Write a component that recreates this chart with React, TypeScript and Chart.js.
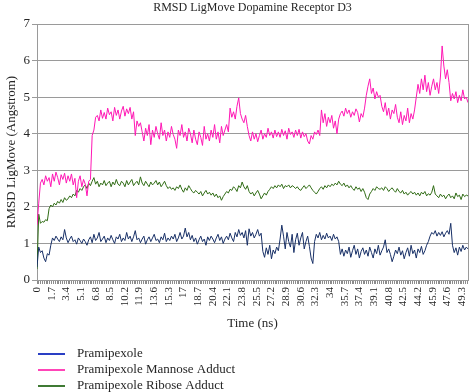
import React, { useEffect, useRef } from "react";
import { Chart, registerables } from "chart.js";

Chart.register(...registerables);

const TITLE = "RMSD LigMove Dopamine Receptor D3";
const X_TITLE = "Time (ns)";
const Y_TITLE = "RMSD LigMove (Angstrom)";

// sampling interval of the trajectories (ns) and axis extent
const TIME_STEP = 0.2;
const X_MAX = 50;
const Y_MAX = 7;

const X_TICK_LABELS = [
  "0", "1.7", "3.4", "5.1", "6.8", "8.5", "10.2", "11.9", "13.6", "15.3",
  "17", "18.7", "20.4", "22.1", "23.8", "25.5", "27.2", "28.9", "30.6", "32.3",
  "34", "35.7", "37.4", "39.1", "40.8", "42.5", "44.2", "45.9", "47.6", "49.3",
];
const MINOR_PER_LABEL = 8;

const SERIES_NAMES = [
  "Pramipexole",
  "Pramipexole Mannose Adduct",
  "Pramipexole Ribose Adduct",
];
const LINE_COLORS = ["#172f66", "#ff17b4", "#2f6b14"];
const LEGEND_COLORS = ["#2a3fc4", "#ff45b8", "#3f7a34"];

// RMSD (Angstrom), one value every TIME_STEP ns from 0 to 50 ns
const PRAMIPEXOLE = [
  0.35, 0.9, 0.75, 0.8, 0.6, 0.5, 0.72, 0.68, 0.95, 1.15,
  1.08, 1.2, 1.12, 1.05, 1.18, 1.1, 1.38, 1.15, 1.02, 1.12,
  1.2, 1.05, 1.1, 0.98, 1.15, 1.08, 1.0, 1.12, 1.05, 0.95,
  1.1, 1.18, 1.02, 1.25, 1.08, 1.15, 1.3, 1.05, 1.12, 1.2,
  1.02, 1.15, 1.08, 1.22, 1.1, 1.0, 1.18, 1.12, 1.25, 1.05,
  1.15, 1.08, 1.3, 1.12, 1.2, 1.05, 1.18, 1.35, 1.1, 1.15,
  1.02, 1.12, 1.2, 0.98, 1.1, 1.18, 1.05, 1.15, 1.25, 1.08,
  1.12, 1.02, 1.18, 1.1, 1.28, 1.05, 1.15, 1.08, 1.2, 1.12,
  1.25, 1.05, 1.15, 1.3, 1.12, 1.2, 1.42, 1.18, 1.3, 1.1,
  1.22, 1.05, 1.15, 0.98, 1.1, 1.2, 1.05, 1.12, 0.95, 1.18,
  1.08, 1.2, 1.12, 1.02, 1.15, 1.25, 1.08, 1.18, 1.0, 1.12,
  1.2, 1.1, 1.28, 1.15, 1.05, 1.3, 1.18, 1.38, 1.22, 1.3,
  1.15, 1.35, 0.95, 1.4, 1.2, 1.3, 1.15, 1.25, 1.38, 1.2,
  1.28, 0.78, 0.62, 0.88, 0.7, 0.95, 0.58, 0.82, 0.72, 0.9,
  0.8, 1.12, 1.5, 1.2, 0.85, 1.3, 1.05, 0.9, 1.25, 0.75,
  1.1, 1.28, 0.95, 1.15, 1.3, 0.85, 1.05, 1.2, 0.92, 0.6,
  0.45, 1.05, 1.25, 1.15, 1.3, 1.1, 1.22, 1.12, 1.28, 1.15,
  1.2, 1.08, 1.25, 1.12, 1.18, 1.05, 0.7, 0.85, 0.65, 0.82,
  0.72, 0.9, 0.62, 0.8, 0.95, 0.7, 0.85, 0.6, 0.78, 0.88,
  0.7, 0.82, 0.65, 0.9, 0.75, 0.6, 0.85, 0.72, 0.95, 0.68,
  0.8, 0.9, 1.1, 0.75, 0.85, 0.7, 0.5, 0.65, 0.82, 0.72,
  0.9, 0.68, 0.8, 0.58, 0.75, 0.88, 0.65, 0.95, 0.72, 0.82,
  0.6, 0.85, 0.75, 0.92, 0.7, 0.8, 0.95, 1.05, 1.2, 1.3,
  1.25, 1.35, 1.2, 1.3, 1.22, 1.32, 1.18, 1.28, 1.35, 1.25,
  1.55, 0.95, 0.75, 0.88, 0.68, 0.9, 0.78, 0.95, 0.82, 0.9,
  0.85,
];

const MANNOSE_ADDUCT = [
  1.5, 2.1, 2.65, 2.75, 2.6, 2.85, 2.7, 2.8, 2.55, 2.9,
  2.7, 2.95, 2.8, 2.6, 2.88, 2.75, 2.92, 2.65, 2.85, 2.7,
  2.9, 2.6, 2.78, 2.25, 2.7, 2.85, 2.55, 2.75, 2.62, 2.3,
  2.7, 2.75, 3.95, 4.1, 4.45, 4.5, 4.35, 4.65, 4.42, 4.58,
  4.4, 4.7, 4.52, 4.6, 4.35, 4.72, 4.5, 4.65, 4.4, 4.62,
  4.75, 4.48, 4.68, 4.55, 4.72, 4.4, 4.6, 3.95, 4.35, 4.2,
  4.3, 4.05, 3.8, 4.15, 3.95, 4.25, 3.7, 4.1, 3.9, 4.2,
  4.0, 3.85, 4.3, 3.95, 4.1, 3.8, 4.05, 3.9, 4.2, 3.98,
  3.85, 3.6, 4.1, 3.95, 4.25, 3.9, 4.05, 3.8, 4.15, 4.0,
  3.75, 4.1, 3.85, 3.7, 4.05, 3.9, 3.68, 4.2, 3.85, 4.0,
  3.8, 4.1, 3.9, 4.25, 3.85, 4.05, 3.75, 4.2, 3.95, 4.1,
  4.25, 4.05, 4.7, 4.45, 4.6, 4.4, 4.75, 4.98, 4.55, 4.4,
  4.3, 4.5, 4.2, 3.95, 3.8, 4.05, 3.85, 4.0, 3.78, 3.95,
  4.1, 3.85, 4.0, 3.9, 4.15, 3.95, 4.05, 3.88, 4.1, 3.92,
  4.05, 3.9, 4.12, 3.95, 4.08, 3.85, 4.15, 3.98, 4.05, 3.9,
  4.1, 3.95, 4.12, 3.88, 4.05, 3.92, 4.0, 3.8, 3.72, 3.95,
  3.85, 4.05, 3.98, 4.1, 3.95, 4.65, 4.3, 4.55, 4.2, 4.45,
  4.3, 4.5, 4.15, 4.35, 4.0, 4.4, 4.55, 4.62, 4.48, 4.7,
  4.55, 4.65, 4.45, 4.6, 4.5, 4.68, 4.58, 4.32, 4.55, 4.45,
  4.7, 5.05, 5.3, 5.5, 5.1, 5.25, 4.95, 5.15, 5.0, 5.05,
  4.75, 4.6, 4.85, 4.5, 4.7, 4.4, 4.65, 4.55, 4.8, 4.45,
  4.3, 4.6, 4.25, 4.5, 4.35, 4.7, 4.3, 4.55, 4.4, 4.65,
  5.0, 5.35, 5.1, 5.5, 5.2, 5.6, 5.15, 5.4, 5.05, 5.3,
  5.5, 5.2, 5.4, 5.1, 5.55, 6.4, 5.85, 5.5, 5.75, 5.4,
  4.9, 5.1, 4.95, 5.15, 4.85, 5.05, 4.9, 5.2, 4.95, 5.0,
  4.85,
];

const RIBOSE_ADDUCT = [
  0.3, 1.8, 1.55, 1.6, 1.58, 1.65, 1.62, 1.95, 2.05, 2.0,
  2.1, 2.05, 2.15, 2.1, 2.2, 2.12, 2.25, 2.18, 2.22, 2.3,
  2.25, 2.35, 2.3, 2.45, 2.4, 2.5, 2.45, 2.55, 2.6, 2.5,
  2.65, 2.58, 2.7, 2.8, 2.62, 2.7, 2.55, 2.65, 2.6, 2.72,
  2.58, 2.65, 2.7, 2.55, 2.68, 2.6, 2.75, 2.62, 2.58, 2.7,
  2.65, 2.55, 2.72, 2.6, 2.68, 2.75, 2.58, 2.65, 2.7, 2.6,
  2.82, 2.65, 2.58, 2.7, 2.62, 2.55, 2.68, 2.6, 2.65, 2.72,
  2.6, 2.68, 2.55, 2.62, 2.7, 2.58, 2.5, 2.55, 2.48, 2.52,
  2.45, 2.55, 2.5, 2.6, 2.48, 2.4, 2.52, 2.45, 2.58, 2.5,
  2.42, 2.38, 2.45, 2.4, 2.35, 2.42, 2.3, 2.38, 2.45, 2.35,
  2.4, 2.32, 2.38, 2.28, 2.35, 2.25, 2.3, 2.18, 2.28, 2.35,
  2.42, 2.38, 2.48, 2.45, 2.55, 2.5, 2.42, 2.58, 2.52, 2.68,
  2.55, 2.48, 2.58, 2.42, 2.35, 2.4, 2.3, 2.38, 2.45, 2.35,
  2.22, 2.3, 2.38, 2.32, 2.42, 2.48, 2.55, 2.5, 2.58, 2.52,
  2.6, 2.55, 2.62, 2.5, 2.58, 2.55, 2.6, 2.52, 2.58, 2.55,
  2.5, 2.55, 2.48, 2.45, 2.52, 2.58, 2.5, 2.55, 2.6, 2.52,
  2.45, 2.4, 2.35, 2.42, 2.5, 2.55, 2.48, 2.58, 2.52, 2.6,
  2.55, 2.62, 2.58, 2.65, 2.6, 2.7, 2.62, 2.58, 2.65, 2.55,
  2.6, 2.52, 2.58, 2.5, 2.45, 2.55, 2.48, 2.52, 2.42, 2.5,
  2.4, 2.25, 2.2, 2.35, 2.42, 2.5, 2.45, 2.55, 2.5, 2.48,
  2.52, 2.45, 2.55, 2.5, 2.42, 2.48, 2.52, 2.45, 2.4, 2.5,
  2.42, 2.38, 2.45, 2.35, 2.4, 2.32, 2.38, 2.42, 2.35, 2.4,
  2.32, 2.38, 2.3, 2.4, 2.35, 2.42, 2.3, 2.36, 2.32, 2.4,
  2.58, 2.35, 2.3, 2.25, 2.35, 2.28, 2.32, 2.22, 2.3, 2.35,
  2.25, 2.3, 2.22, 2.38, 2.28, 2.32, 2.2, 2.35, 2.28, 2.32,
  2.3,
];

const SERIES_VALUES = [PRAMIPEXOLE, MANNOSE_ADDUCT, RIBOSE_ADDUCT];

const FONT_FAMILY = '"Liberation Serif", "Times New Roman", serif';
const TEXT_COLOR = "#262626";
const GRID_COLOR = "#9a9a9a";

const CANVAS_W = 470;
const CANVAS_H = 392;

// title above the plot, a right-hand frame line and the stacked legend below
const decorPlugin = {
  id: "decor",
  afterDraw(chart: any) {
    const { ctx, chartArea } = chart;
    ctx.save();

    ctx.strokeStyle = GRID_COLOR;
    ctx.lineWidth = 1;
    const rx = Math.round(chartArea.right) + 0.5;
    ctx.beginPath();
    ctx.moveTo(rx, Math.round(chartArea.top));
    ctx.lineTo(rx, Math.round(chartArea.bottom));
    ctx.stroke();

    ctx.fillStyle = TEXT_COLOR;
    ctx.font = `12px ${FONT_FAMILY}`;
    ctx.textAlign = "center";
    ctx.textBaseline = "middle";
    ctx.fillText(TITLE, (chartArea.left + chartArea.right) / 2, 8);

    const legendTop = 354;
    const rowGap = 15.8;
    ctx.font = `13px ${FONT_FAMILY}`;
    ctx.textAlign = "left";
    SERIES_NAMES.forEach((name, i) => {
      const y = legendTop + i * rowGap;
      ctx.strokeStyle = LEGEND_COLORS[i];
      ctx.lineWidth = 2;
      ctx.beginPath();
      ctx.moveTo(38, Math.round(y));
      ctx.lineTo(65, Math.round(y));
      ctx.stroke();
      ctx.fillStyle = TEXT_COLOR;
      ctx.fillText(name, 77, y);
    });

    ctx.restore();
  },
};

export default function App() {
  const canvasRef = useRef<HTMLCanvasElement | null>(null);

  useEffect(() => {
    const canvas = canvasRef.current;
    if (!canvas) return;

    const datasets = SERIES_NAMES.map((name, s) => ({
      label: name,
      data: SERIES_VALUES[s].map((v, i) => ({ x: i * TIME_STEP, y: v })),
      borderColor: LINE_COLORS[s],
      backgroundColor: LINE_COLORS[s],
      borderWidth: 1,
      pointRadius: 0,
      tension: 0,
      fill: false,
    }));

    const labelStep = Number(X_TICK_LABELS[1]) - Number(X_TICK_LABELS[0]);

    const chart = new Chart(canvas, {
      type: "line",
      data: { datasets },
      plugins: [decorPlugin],
      options: {
        animation: false,
        responsive: false,
        devicePixelRatio: 1,
        layout: { padding: { top: 24, right: 2, bottom: 57, left: 0 } },
        plugins: {
          legend: { display: false },
          title: { display: false },
          tooltip: { enabled: false },
        },
        scales: {
          x: {
            type: "linear",
            min: 0,
            max: X_MAX,
            afterBuildTicks: (scale: any) => {
              const ticks = [];
              for (let k = 0; ; k++) {
                const v = (k * labelStep) / MINOR_PER_LABEL;
                if (v > X_MAX + 1e-9) break;
                ticks.push({ value: v });
              }
              scale.ticks = ticks;
            },
            afterFit: (scale: any) => {
              scale.height = 55;
              scale.paddingLeft = 0;
              scale.paddingRight = 0;
            },
            ticks: {
              autoSkip: false,
              maxRotation: 90,
              minRotation: 90,
              padding: 3,
              color: TEXT_COLOR,
              font: { family: FONT_FAMILY, size: 11 },
              callback: (value: any) => {
                const lab = X_TICK_LABELS.find(
                  (l) => Math.abs(Number(l) - Number(value)) < 1e-6
                );
                return lab ?? "";
              },
            },
            grid: {
              drawOnChartArea: false,
              drawTicks: true,
              tickLength: 4,
              color: "#8c8c8c",
            },
            border: { display: true, color: GRID_COLOR },
            title: {
              display: true,
              text: X_TITLE,
              color: TEXT_COLOR,
              font: { family: FONT_FAMILY, size: 13 },
              padding: { top: 4, bottom: 4 },
            },
          },
          y: {
            type: "linear",
            min: 0,
            max: Y_MAX,
            afterFit: (scale: any) => {
              scale.width = 37;
              scale.paddingTop = 0;
              scale.paddingBottom = 0;
            },
            ticks: {
              stepSize: 1,
              padding: 2,
              color: TEXT_COLOR,
              font: { family: FONT_FAMILY, size: 13 },
            },
            grid: {
              color: GRID_COLOR,
              lineWidth: 1,
              tickLength: 5,
            },
            border: { display: true, color: GRID_COLOR },
            title: {
              display: true,
              text: Y_TITLE,
              color: TEXT_COLOR,
              font: { family: FONT_FAMILY, size: 13 },
              padding: { top: 4, bottom: 4 },
            },
          },
        },
      } as any,
    });

    return () => chart.destroy();
  }, []);

  return (
    <div
      style={{
        position: "fixed",
        left: 0,
        top: 0,
        width: CANVAS_W,
        height: CANVAS_H,
        background: "#ffffff",
      }}
    >
      <canvas
        ref={canvasRef}
        width={CANVAS_W}
        height={CANVAS_H}
        style={{ width: CANVAS_W, height: CANVAS_H, display: "block" }}
      />
    </div>
  );
}
